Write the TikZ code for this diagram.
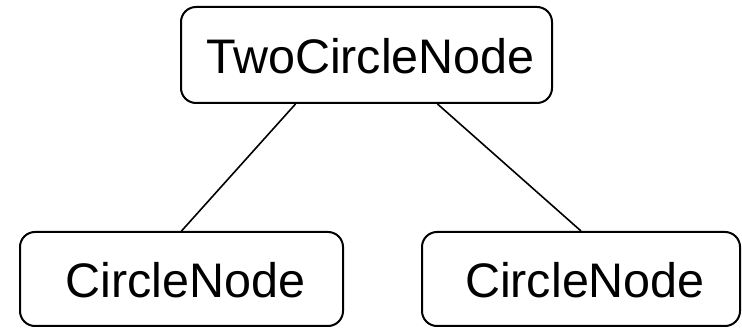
\documentclass[tikz,border=0pt]{standalone}
\usepackage{fontspec}
\setmainfont{Liberation Sans}
\usetikzlibrary{calc}
\tikzset{
  box/.style={draw=black, line width=2pt, rounded corners=15pt, fill=white,
              inner sep=0pt},
  boxtext/.style={font=\fontsize{48.5}{58}\selectfont, xshift=4pt, yshift=-1.5pt},
  link/.style={draw=black, line width=1.6pt}
}
\begin{document}
\begin{tikzpicture}[x=1pt, y=-1pt]
  \useasboundingbox (0,0) rectangle (742,328);
  \node[box, minimum width=371pt, minimum height=96pt,
        label={[boxtext]center:TwoCircleNode}] (root) at (366.5,55) {};
  \node[box, minimum width=323pt, minimum height=94pt,
        label={[boxtext]center:CircleNode}] (left) at (181.5,279) {};
  \node[box, minimum width=318pt, minimum height=94pt,
        label={[boxtext]center:CircleNode}] (right) at (581,279) {};
  \draw[link] ($(root.south)+(-71,0)$) -- (left.north);
  \draw[link] ($(root.south)+(71,0)$) -- (right.north);
\end{tikzpicture}
\end{document}
